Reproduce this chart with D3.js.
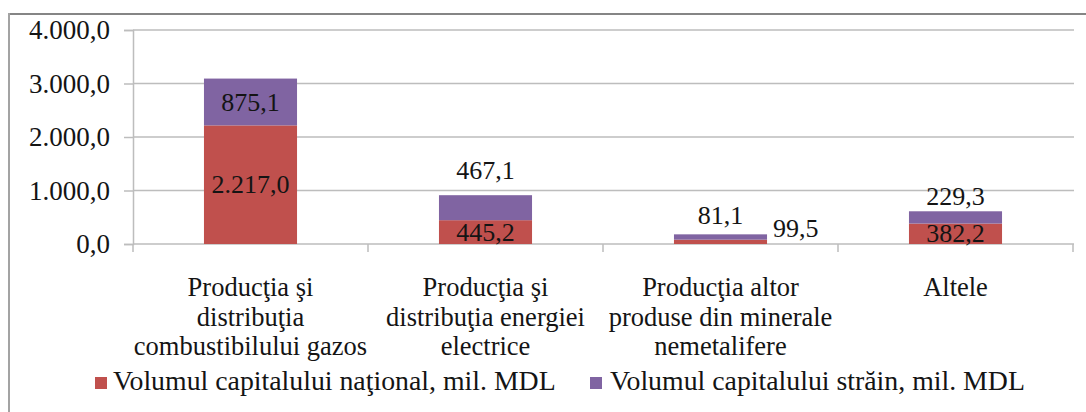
<!DOCTYPE html>
<html>
<head>
<meta charset="utf-8">
<script src="https://cdn.jsdelivr.net/npm/d3@7"></script>
<style>
  html, body { margin: 0; padding: 0; background: #fff; }
  svg { display: block; }
  svg text { font-family: "Liberation Serif", "Tinos", "Times New Roman", "DejaVu Serif", serif !important; fill: #141414; }
</style>
</head>
<body>
<svg id="chart" width="1086" height="412"></svg>
<script>
// ---- data ----
const categories = [
  "Producţia şi distribuţia combustibilului gazos",
  "Producţia şi distribuţia energiei electrice",
  "Producţia altor produse din minerale nemetalifere",
  "Altele"
];
const categoryLines = [
  ["Producţia şi", "distribuţia", "combustibilului gazos"],
  ["Producţia şi", "distribuţia energiei", "electrice"],
  ["Producţia altor", "produse din minerale", "nemetalifere"],
  ["Altele"]
];
const national = [2217.0, 445.2, 81.1, 382.2];
const foreign = [875.1, 467.1, 99.5, 229.3];
const seriesNames = [
  "Volumul capitalului naţional, mil. MDL",
  "Volumul capitalului străin, mil. MDL"
];
const yTicks = [0, 1000, 2000, 3000, 4000];

// ---- label layout (style only) ----
const nationalLabelMode = ["center", "center", "above", "center"];
const foreignLabelMode = ["center", "above", "right", "aboveClose"];

const colors = ["#C0504D", "#8064A2"];

const svg = d3.select("#chart");
const W = 1086, H = 412;
const plot = { left: 133, right: 1073, top: 30, bottom: 244 };

// frame
svg.append("line").attr("x1", 9).attr("x2", W).attr("y1", 14).attr("y2", 14)
  .attr("stroke", "#858585").attr("stroke-width", 2);
svg.append("line").attr("x1", 9).attr("x2", 9).attr("y1", 13).attr("y2", H)
  .attr("stroke", "#a3a3a3").attr("stroke-width", 2);

const x = d3.scaleBand().domain(categories)
  .range([plot.left, plot.right]).paddingInner(0.604).paddingOuter(0.302);
const y = d3.scaleLinear().domain([0, 4000]).range([plot.bottom, plot.top]);

const loc = d3.formatLocale({ decimal: ",", thousands: ".", grouping: [3], currency: ["", ""] });
const fmt = loc.format(",.1f");

// gridlines
svg.append("g").selectAll("line").data(yTicks.filter(d => d > 0)).join("line")
  .attr("x1", plot.left).attr("x2", plot.right + 1)
  .attr("y1", d => y(d)).attr("y2", d => y(d))
  .attr("stroke", "#bdbdbd").attr("stroke-width", 1.5);

// y axis
const yAxis = d3.axisLeft(y).tickValues(yTicks).tickFormat(fmt).tickSize(9).tickPadding(14);
const gy = svg.append("g").attr("transform", `translate(${plot.left},0)`).call(yAxis);
gy.attr("font-family", null).attr("font-size", null);
gy.select(".domain").attr("stroke", "#bdbdbd").attr("stroke-width", 1.5);
gy.selectAll(".tick line").attr("stroke", "#bdbdbd").attr("stroke-width", 1.5);
gy.selectAll(".tick text").attr("font-size", "27px").attr("fill", "#141414").attr("dy", "0.33em");

// x axis line + ticks at band boundaries
svg.append("line").attr("x1", plot.left).attr("x2", plot.right + 1)
  .attr("y1", plot.bottom).attr("y2", plot.bottom)
  .attr("stroke", "#bdbdbd").attr("stroke-width", 1.5);
const step = x.step();
const boundaries = d3.range(categories.length + 1).map(i => plot.left + i * step);
svg.append("g").selectAll("line").data(boundaries).join("line")
  .attr("x1", d => d).attr("x2", d => d)
  .attr("y1", plot.bottom).attr("y2", plot.bottom + 8)
  .attr("stroke", "#bdbdbd").attr("stroke-width", 1.5);

// stacked data
const rows = categories.map((c, i) => ({ cat: c, national: national[i], foreign: foreign[i] }));
const stack = d3.stack().keys(["national", "foreign"])(rows);

const gBars = svg.append("g");
stack.forEach((layer, li) => {
  gBars.append("g").attr("fill", colors[li]).selectAll("rect").data(layer).join("rect")
    .attr("x", d => x(d.data.cat))
    .attr("width", x.bandwidth())
    .attr("y", d => y(d[1]))
    .attr("height", d => y(d[0]) - y(d[1]));
});

// data labels
const gLabels = svg.append("g").attr("font-size", "26px");
function placeLabel(seg, mode, value, i) {
  const cx = x(categories[i]) + x.bandwidth() / 2;
  const top = y(seg[1]), bot = y(seg[0]);
  let tx = cx, ty, anchor = "middle";
  if (mode === "center") { ty = (top + bot) / 2 + 26 * 0.33; }
  else if (mode === "above") { ty = top - 16; }
  else if (mode === "aboveClose") { ty = top - 6; }
  else if (mode === "right") { tx = x(categories[i]) + x.bandwidth() + 6; ty = top + 3; anchor = "start"; }
  gLabels.append("text").attr("x", tx).attr("y", ty).attr("text-anchor", anchor).text(fmt(value));
}
stack[0].forEach((seg, i) => placeLabel(seg, nationalLabelMode[i], national[i], i));
stack[1].forEach((seg, i) => placeLabel(seg, foreignLabelMode[i], foreign[i], i));

// category labels
const gCat = svg.append("g").attr("font-size", "26.5px").attr("text-anchor", "middle");
categoryLines.forEach((lines, i) => {
  const cx = x(categories[i]) + x.bandwidth() / 2;
  const t = gCat.append("text").attr("x", cx).attr("y", 296);
  lines.forEach((ln, j) => {
    t.append("tspan").attr("x", cx).attr("y", 296 + j * 29.5).text(ln);
  });
});

// legend
const legendItems = [{ x: 95, tx: 113 }, { x: 590, tx: 610 }];
const gLeg = svg.append("g");
seriesNames.forEach((name, i) => {
  gLeg.append("rect").attr("x", legendItems[i].x).attr("y", 377).attr("width", 12).attr("height", 12)
    .attr("fill", colors[i]);
  gLeg.append("text").attr("x", legendItems[i].tx).attr("y", 390).attr("font-size", "27.8px").text(name);
});
</script>
</body>
</html>
